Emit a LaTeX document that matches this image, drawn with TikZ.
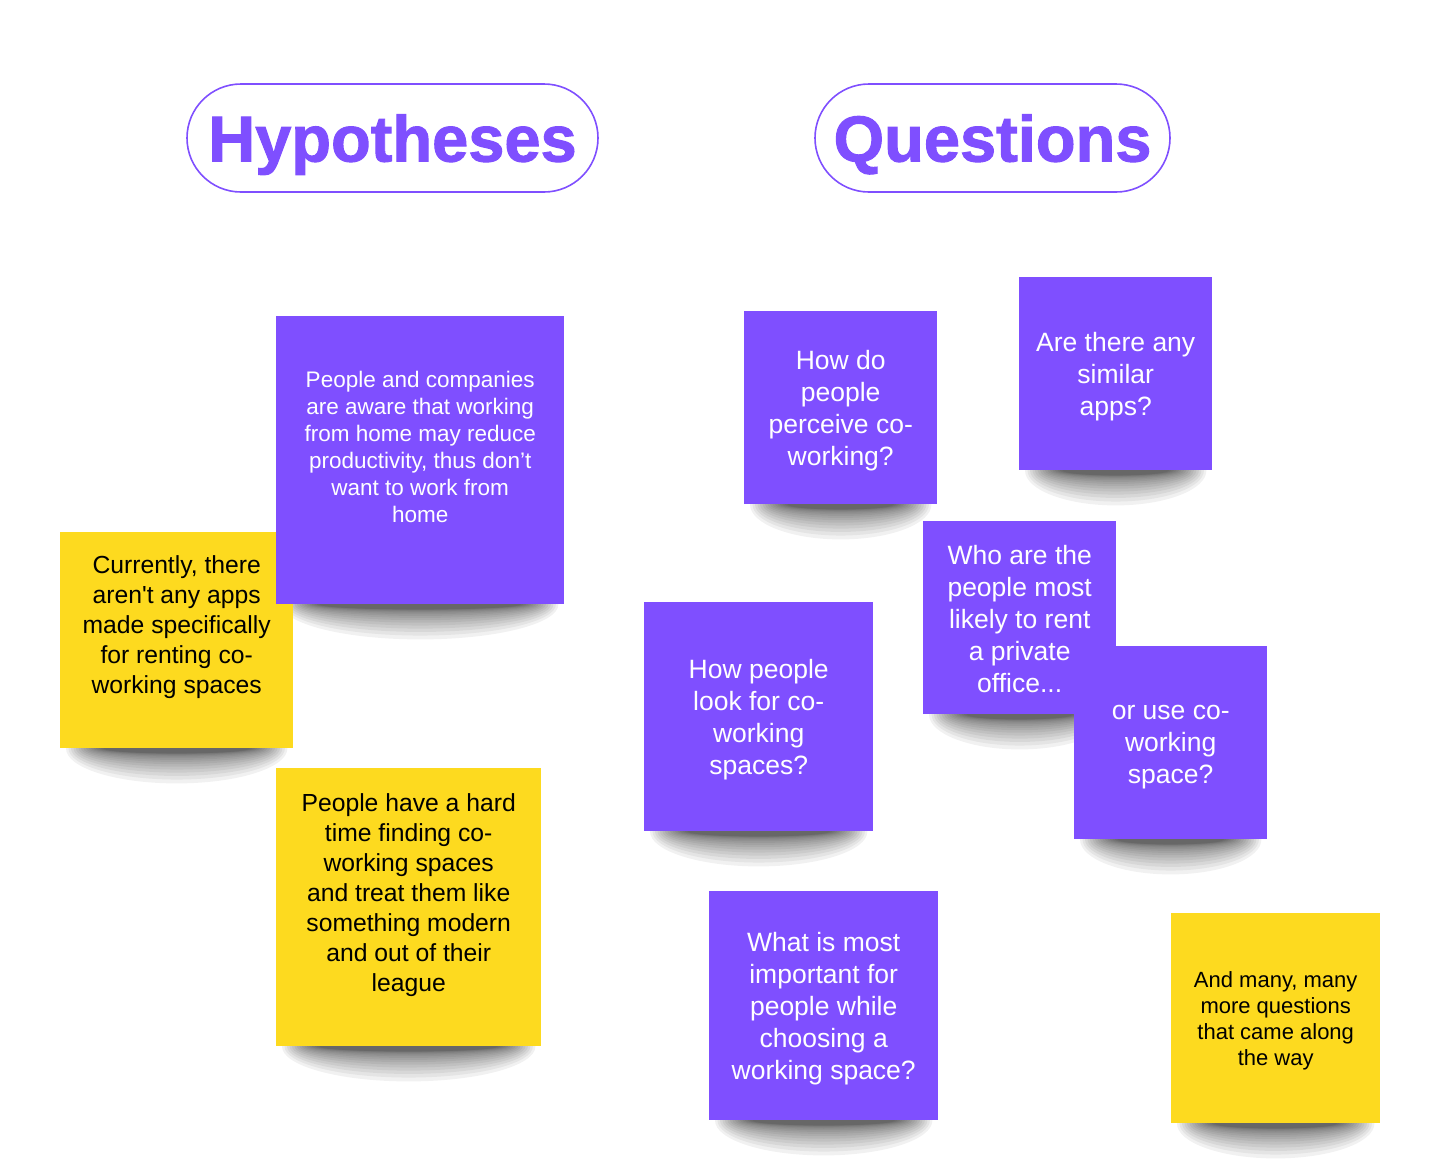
\documentclass[tikz,border=0pt]{standalone}
\usepackage{fontspec}
\setmainfont{Liberation Sans}[Ligatures=TeXOff]
\newfontfamily\headfont{Liberation Sans}[BoldFeatures={FakeBold=1.5}]
\usetikzlibrary{calc}
\definecolor{notepurple}{RGB}{127,79,255}
\definecolor{noteyellow}{RGB}{253,218,31}
\pgfdeclarelayer{background}
\pgfsetlayers{background,main}

\begin{document}
\begin{tikzpicture}[x=1pt, y=-1pt,
  pill/.style={draw=notepurple, line width=1.6pt, rounded corners=54pt,
    minimum height=108pt, text=notepurple, text height=47pt, text depth=0pt,
    font=\headfont\bfseries\fontsize{65}{70}\selectfont},
  note/.style={anchor=north west, inner sep=0pt},
  purplenote/.style={note, fill=notepurple},
  yellownote/.style={note, fill=noteyellow},
  qtext/.style={text=white, align=center, font=\fontsize{26.5}{32}\selectfont},
  htext/.style={text=black, align=center, font=\fontsize{24.7}{30}\selectfont},
  smalltext/.style={align=center, font=\fontsize{22.5}{27}\selectfont}
]
\useasboundingbox (0,0) rectangle (1440,1168);

% titles
\node[pill, minimum width=411pt] (hypTitle) at (392.5,138) {Hypotheses};
\node[pill, minimum width=355pt] (qTitle) at (992.5,138) {Questions};

% hypotheses
\node[yellownote, minimum width=233pt, minimum height=216pt] (hypApps) at (60,532) {};
\node[htext] (hypAppsText) at ([yshift=13pt]hypApps.center)
  {Currently, there\\aren't any apps\\made specifically\\for renting co-\\working spaces};
\node[purplenote, minimum width=288pt, minimum height=288pt] (hypAware) at (276,316) {};
\node[smalltext, text=white] (hypAwareText) at ([yshift=13pt]hypAware.center)
  {People and companies\\are aware that working\\from home may reduce\\productivity, thus don’t\\want to work from\\home};
\node[yellownote, minimum width=265pt, minimum height=278pt] (hypHard) at (276,768) {};
\node[htext] (hypHardText) at ([yshift=12pt]hypHard.center)
  {People have a hard\\time finding co-\\working spaces\\and treat them like\\something modern\\and out of their\\league};

% questions
\node[purplenote, minimum width=193pt, minimum height=193pt] (qPerceive) at (744,311) {};
\node[qtext] (qPerceiveText) at ([yshift=-3pt]qPerceive.center) {How do\\people\\perceive co-\\working?};
\node[purplenote, minimum width=193pt, minimum height=193pt] (qSimilar) at (1019,277) {};
\node[qtext] (qSimilarText) at ([yshift=-3pt]qSimilar.center) {Are there any\\similar\\apps?};
\node[purplenote, minimum width=193pt, minimum height=193pt] (qWho) at (923,521) {};
\node[qtext] (qWhoText) at ([yshift=-1pt]qWho.center) {Who are the\\people most\\likely to rent\\a private\\office...};
\node[purplenote, minimum width=193pt, minimum height=193pt] (qUse) at (1074,646) {};
\node[qtext] (qUseText) at ([yshift=-4pt]qUse.center) {or use co-\\working\\space?};
\node[purplenote, minimum width=229pt, minimum height=229pt] (qLook) at (644,602) {};
\node[qtext] (qLookText) at ([yshift=-3pt]qLook.center) {How people\\look for co-\\working\\spaces?};
\node[purplenote, minimum width=229pt, minimum height=229pt] (qImportant) at (709,891) {};
\node[qtext] (qImportantText) at ([yshift=-3pt]qImportant.center)
  {What is most\\important for\\people while\\choosing a\\working space?};
\node[yellownote, minimum width=209pt, minimum height=210pt] (qMore) at (1171,913) {};
\node[smalltext, text=black, font=\fontsize{22}{26}\selectfont] (qMoreText) at ([yshift=-3pt]qMore.center)
  {And many, many\\more questions\\that came along\\the way};

% curled shadows under the notes
\begin{pgfonlayer}{background}
\foreach \sn in {hypApps,hypAware,hypHard,qPerceive,qSimilar,qWho,qUse,qLook,qImportant,qMore}{
  \foreach \k in {0,...,15}{
    \fill[black, opacity=0.055] let \p1=(\sn.south west), \p2=(\sn.south east) in
      (\sn.south) ellipse [x radius={0.5*(\x2-\x1)-6pt-2.5pt*\k},
                           y radius={5pt+30pt*((15-\k)/15)^2}];
  }
}
\end{pgfonlayer}
\end{tikzpicture}
\end{document}
